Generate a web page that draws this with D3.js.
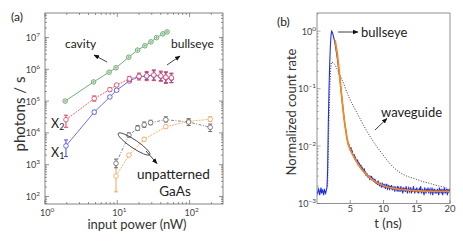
<!DOCTYPE html>
<html><head><meta charset="utf-8">
<script src="https://cdn.jsdelivr.net/npm/d3@7"></script>
<style>body{margin:0;background:#fff} svg{display:block;font-family:Lato,sans-serif}</style>
</head><body><svg></svg><script>
// ---- panel (a) data: photons / s vs input power (nW)
var cavityPower = [1.9, 4.7, 7.7, 9.6, 14.4, 19.1, 24.1, 29.2, 34.9, 42.7, 48.9];
var cavityRate  = [1.0e5, 4.0e5, 8.1e5, 1.12e6, 2.4e6, 4.0e6, 5.5e6, 7.3e6, 9.9e6, 1.3e7, 1.5e7];

var bullPower = [1.95, 4.8, 7.9, 9.8, 14.7, 20, 25.5, 32, 40, 47, 56];
var x2Rate = [2.6e4, 1.2e5, 2.3e5, 3.2e5, 5.0e5, 6.0e5, 6.2e5, 6.6e5, 6.2e5, 5.6e5, 5.4e5];
var x2Lo   = [1.5e4, 1.0e5, 2.0e5, 2.9e5, 4.2e5, 4.6e5, 4.4e5, 4.4e5, 4.2e5, 3.6e5, 3.8e5];
var x2Hi   = [3.6e4, 1.45e5, 2.6e5, 3.5e5, 6.0e5, 7.6e5, 8.6e5, 9.6e5, 8.8e5, 8.4e5, 7.6e5];
var x1Rate = [3.9e3, 4.5e4, 1.35e5, 2.2e5, 4.3e5, 5.9e5, 6.1e5, 6.5e5, 6.0e5, 5.4e5, 5.2e5];
var x1Lo   = [1.8e3, 4.0e4, 1.25e5, 2.0e5, 3.9e5, 5.0e5, 4.8e5, 4.6e5, 4.4e5, 3.8e5, 3.8e5];
var x1Hi   = [6.0e3, 5.1e4, 1.45e5, 2.4e5, 4.8e5, 7.0e5, 8.0e5, 9.0e5, 8.2e5, 7.8e5, 7.2e5];

var grayPower = [9.6, 14.5, 19.1, 23.6, 28.9, 46.9, 97, 193];
var grayRate  = [1.1e3, 8.5e3, 1.4e4, 1.8e4, 2.1e4, 2.6e4, 2.2e4, 1.5e4];
var grayLo    = [0.8e3, 7.5e3, 1.2e4, 1.5e4, 1.8e4, 2.2e4, 1.7e4, 1.1e4];
var grayHi    = [1.5e3, 1.0e4, 1.7e4, 2.2e4, 2.5e4, 3.2e4, 2.8e4, 1.9e4];

var orangePower = [9.6, 14.5, 23.6, 46.9, 97, 193];
var orangeRate  = [440, 2.0e3, 6.3e3, 1.57e4, 2.3e4, 2.7e4];
var orangeLo    = [140, 1.8e3, 5.5e3, 1.4e4, 2.0e4, 2.3e4];
var orangeHi    = [1.0e3, 2.2e3, 7.2e3, 1.75e4, 2.6e4, 3.2e4];

var aExpX = [0, 1, 2];
var aExpY = [2, 3, 4, 5, 6, 7];

// ---- panel (b) data: normalized count rate vs t (ns)
var timeStep = 0.1; // blue trace sampled every 0.1 ns from 0 to 20
var bullTraceE3 = [ // values x 1e-3
  1.6,1.5,1.8,1.7,1.4,1.6,1.9,1.5,1.7,1.6,1.4,1.8,1.6,1.5,1.7,1.9,
  4,25,90,250,520,830,1000,960,880,790,700,610,520,440,
  372,300,245,200,162,129,100,76,59,47,36,29,23.4,20,17.5,13.5,12.4,10.5,10.6,9.1,
  8.7,9.6,7.9,8.2,7.1,6.6,7.2,6.0,6.3,5.5,
  5.3,5.8,4.8,5.1,4.9,4.3,4.7,4.0,4.2,3.8,
  3.7,4.1,3.4,3.5,3.0,3.3,3.2,2.8,3.1,2.7,
  2.9,2.6,3.0,2.5,2.7,2.4,2.7,2.3,2.5,2.2,
  2.4,2.1,2.5,2.2,2.0,2.3,2.1,1.9,2.3,2.0,
  2.1,1.9,2.2,1.8,2.0,2.2,1.8,1.9,2.1,1.7,
  2.0,1.8,2.1,1.7,1.9,1.8,2.0,1.6,1.9,1.8,
  1.7,2.0,1.6,1.9,1.8,1.6,2.0,1.7,1.8,1.5,
  1.9,1.7,1.8,1.6,2.0,1.7,1.5,1.8,1.9,1.6,
  1.7,1.9,1.5,1.8,1.6,2.0,1.7,1.5,1.8,1.6,
  1.9,1.6,1.7,1.5,1.8,1.7,2.0,1.5,1.6,1.8,
  1.6,1.4,1.9,1.7,1.5,1.8,1.6,1.9,1.5,1.7,
  1.8,1.5,1.6,1.9,1.4,1.7,1.6,1.8,1.5,1.7,
  1.5,1.8,1.6,1.4,1.9,1.6,1.7,1.5,1.8,1.4,
  1.7,1.6,1.9,1.5,1.6,1.8,1.4,1.7,1.6,1.8,
  1.6];
var fitT = [2.72, 3.08, 3.42, 3.77, 4.17, 4.57, 4.96, 5.55, 6.3, 7.29, 8.53, 10.0, 12.0, 14.5, 17.5, 20];
var fitV = [0.70, 0.38, 0.16, 0.063, 0.025, 0.0126, 0.0089, 0.0065, 0.0046, 0.0033, 0.0025, 0.00204, 0.0018, 0.00168, 0.00163, 0.00163];
var waveT = [1.6, 1.9, 2.19, 3.57, 4.81, 6.06, 7.29, 8.53, 9.78, 11.0, 12.25, 13.5, 14.7, 15.97, 17.2, 18.45, 19.45];
var waveV = [0.002, 0.08, 0.29, 0.16, 0.071, 0.037, 0.020, 0.0117, 0.0074, 0.0049, 0.0036, 0.0030, 0.0027, 0.0024, 0.0022, 0.0020, 0.0019];
var bExpY = [0, -1, -2, -3];
var bTicksX = [5, 10, 15, 20];

var svg = d3.select('svg').attr('width', 463).attr('height', 241);
var defs = svg.append('defs');
defs.append('marker').attr('id', 'ah').attr('viewBox', '0 0 10 10')
  .attr('refX', 9).attr('refY', 5).attr('markerWidth', 7).attr('markerHeight', 7)
  .attr('orient', 'auto')
  .append('path').attr('d', 'M0,1L10,5L0,9Z').attr('fill', '#111');

function pow10(g, x, y, e, anchor, fs) {
  var t = g.append('text').attr('x', x).attr('y', y).attr('text-anchor', anchor)
    .attr('font-size', fs).attr('fill', '#444');
  t.append('tspan').text('10');
  t.append('tspan').attr('dy', -4).attr('font-size', fs * 0.72).text(e < 0 ? '\u2212' + (-e) : e);
  return t;
}

// ================= panel (a)
var ax = d3.scaleLog().domain([1, 290]).range([45, 223]);
var ay = d3.scaleLog().domain([Math.pow(10, 1.764), Math.pow(10, 7.77)]).range([204, 13]);
var ga = svg.append('g');
ga.append('defs').append('clipPath').attr('id', 'clipA').append('rect')
  .attr('x', 45).attr('y', 13).attr('width', 178).attr('height', 191);

ax.ticks().forEach(function (v) {
  var major = Math.abs(Math.log10(v) - Math.round(Math.log10(v))) < 1e-9;
  var len = major ? 4 : 2, x = ax(v);
  ga.append('line').attr('x1', x).attr('x2', x).attr('y1', 204).attr('y2', 204 - len).attr('stroke', '#666').attr('stroke-width', 0.7);
  ga.append('line').attr('x1', x).attr('x2', x).attr('y1', 13).attr('y2', 13 + len).attr('stroke', '#666').attr('stroke-width', 0.7);
});
ay.ticks().forEach(function (v) {
  var major = Math.abs(Math.log10(v) - Math.round(Math.log10(v))) < 1e-9;
  var len = major ? 4 : 2, y = ay(v);
  ga.append('line').attr('x1', 45).attr('x2', 45 + len).attr('y1', y).attr('y2', y).attr('stroke', '#666').attr('stroke-width', 0.7);
  ga.append('line').attr('x1', 223).attr('x2', 223 - len).attr('y1', y).attr('y2', y).attr('stroke', '#666').attr('stroke-width', 0.7);
});
ga.append('rect').attr('x', 45).attr('y', 13).attr('width', 178).attr('height', 191)
  .attr('fill', 'none').attr('stroke', '#666').attr('stroke-width', 0.8);
aExpX.forEach(function (e) { pow10(ga, ax(Math.pow(10, e)) - 5, 215.5, e, 'start', 9); });
aExpY.forEach(function (e) { pow10(ga, 40, ay(Math.pow(10, e)) + 3.5, e, 'end', 9); });

function series(xs, ys, lo, hi, color, dash, cross) {
  var pts = xs.map(function (x, i) { return {x: x, y: ys[i], lo: lo ? lo[i] : null, hi: hi ? hi[i] : null}; });
  var g = ga.append('g').attr('clip-path', 'url(#clipA)');
  g.append('path').datum(pts)
    .attr('d', d3.line().x(function (d) { return ax(d.x); }).y(function (d) { return ay(d.y); }))
    .attr('fill', 'none').attr('stroke', color).attr('stroke-width', 0.8).attr('stroke-dasharray', dash);
  if (lo) {
    var eb = g.selectAll('g.eb').data(pts).enter().append('g')
      .attr('stroke', color).attr('stroke-width', 1);
    eb.append('line').attr('x1', function (d) { return ax(d.x); }).attr('x2', function (d) { return ax(d.x); })
      .attr('y1', function (d) { return ay(d.lo); }).attr('y2', function (d) { return ay(d.hi); });
    eb.append('line').attr('x1', function (d) { return ax(d.x) - 2; }).attr('x2', function (d) { return ax(d.x) + 2; })
      .attr('y1', function (d) { return ay(d.lo); }).attr('y2', function (d) { return ay(d.lo); });
    eb.append('line').attr('x1', function (d) { return ax(d.x) - 2; }).attr('x2', function (d) { return ax(d.x) + 2; })
      .attr('y1', function (d) { return ay(d.hi); }).attr('y2', function (d) { return ay(d.hi); });
  }
  g.selectAll('circle').data(pts).enter().append('circle')
    .attr('cx', function (d) { return ax(d.x); }).attr('cy', function (d) { return ay(d.y); })
    .attr('r', 2.3).attr('fill', '#fff').attr('stroke', color).attr('stroke-width', 0.8);
  if (cross) {
    g.selectAll('path.cr').data(pts).enter().append('path')
      .attr('d', function (d) { var x = ax(d.x), y = ay(d.y); return 'M' + (x - 1.6) + ',' + y + 'H' + (x + 1.6) + 'M' + x + ',' + (y - 1.6) + 'V' + (y + 1.6); })
      .attr('stroke', color).attr('stroke-width', 0.6);
  }
}
series(cavityPower, cavityRate, null, null, '#4f9a55', null, true);
series(bullPower, x1Rate, x1Lo, x1Hi, '#4a4ae0', null, false);
series(bullPower, x2Rate, x2Lo, x2Hi, '#e0405a', '2,1', false);
series(orangePower, orangeRate, orangeLo, orangeHi, '#f2a35a', '2,1', false);
series(grayPower, grayRate, grayLo, grayHi, '#6a6a6a', '3,1.5,1,1.5', false);

// annotations (a)
ga.append('text').attr('x', 11).attr('y', 21).attr('font-size', 12).attr('fill', '#222').text('(a)');
ga.append('text').attr('x', 65).attr('y', 47.5).attr('font-size', 12).attr('fill', '#222').text('cavity');
ga.append('line').attr('x1', 107).attr('y1', 62).attr('x2', 94).attr('y2', 55)
  .attr('stroke', '#111').attr('stroke-width', 0.8).attr('marker-end', 'url(#ah)');
ga.append('text').attr('x', 171).attr('y', 48).attr('font-size', 12).attr('fill', '#222').text('bullseye');
ga.append('line').attr('x1', 167).attr('y1', 65).attr('x2', 180).attr('y2', 56)
  .attr('stroke', '#111').attr('stroke-width', 0.8).attr('marker-end', 'url(#ah)');
var tx2 = ga.append('text').attr('x', 51).attr('y', 128).attr('font-size', 12.5).attr('fill', '#222');
tx2.append('tspan').text('X');
tx2.append('tspan').attr('dy', 1.5).attr('font-size', 9).text('2');
var tx1 = ga.append('text').attr('x', 51).attr('y', 157).attr('font-size', 12.5).attr('fill', '#222');
tx1.append('tspan').text('X');
tx1.append('tspan').attr('dy', 1.5).attr('font-size', 9).text('1');
ga.append('ellipse').attr('cx', 134).attr('cy', 144).attr('rx', 19).attr('ry', 4)
  .attr('transform', 'rotate(34,134,144)').attr('fill', 'none').attr('stroke', '#333').attr('stroke-width', 0.8);
ga.append('line').attr('x1', 146).attr('y1', 151).attr('x2', 157).attr('y2', 163.5)
  .attr('stroke', '#111').attr('stroke-width', 0.8).attr('marker-end', 'url(#ah)');
ga.append('text').attr('x', 137).attr('y', 179).attr('font-size', 13.5).attr('fill', '#222').text('unpatterned');
ga.append('text').attr('x', 175).attr('y', 196).attr('font-size', 13.5).attr('fill', '#222').attr('text-anchor', 'middle').text('GaAs');
ga.append('text').attr('x', 137).attr('y', 229).attr('font-size', 13).attr('fill', '#333').attr('text-anchor', 'middle').text('input power (nW)');
ga.append('text').attr('transform', 'translate(25,114) rotate(-90)').attr('font-size', 15).attr('fill', '#333')
  .attr('text-anchor', 'middle').text('photons / s');

// ================= panel (b)
var bx = d3.scaleLinear().domain([0, 20]).range([317, 450]);
var by = d3.scaleLog().domain([1e-3, Math.pow(10, 0.316)]).range([203.5, 13]);
var gb = svg.append('g');
gb.append('defs').append('clipPath').attr('id', 'clipB').append('rect')
  .attr('x', 317).attr('y', 13).attr('width', 133).attr('height', 190.5);

bTicksX.forEach(function (v) {
  gb.append('line').attr('x1', bx(v)).attr('x2', bx(v)).attr('y1', 203.5).attr('y2', 200).attr('stroke', '#666').attr('stroke-width', 0.7);
  gb.append('text').attr('x', bx(v)).attr('y', 212).attr('text-anchor', 'middle').attr('font-size', 9.5).attr('fill', '#444').text(v);
});
by.ticks().forEach(function (v) {
  var major = Math.abs(Math.log10(v) - Math.round(Math.log10(v))) < 1e-9;
  gb.append('line').attr('x1', 317).attr('x2', 317 + (major ? 3.5 : 1.8)).attr('y1', by(v)).attr('y2', by(v))
    .attr('stroke', '#777').attr('stroke-width', 0.6);
});
bExpY.forEach(function (e) { pow10(gb, 316, by(Math.pow(10, e)) + 3.5, e, 'end', 9); });

var gbc = gb.append('g').attr('clip-path', 'url(#clipB)');
var blueData = bullTraceE3.map(function (v, i) { return {t: i * timeStep, v: v * 1e-3}; });
var waveData = waveT.map(function (t, i) { return {t: t, v: waveV[i]}; });
var fitData = fitT.map(function (t, i) { return {t: t, v: fitV[i]}; });
var lineB = d3.line().x(function (d) { return bx(d.t); }).y(function (d) { return by(d.v); });
gbc.append('path').datum(waveData).attr('d', lineB.curve(d3.curveMonotoneX))
  .attr('fill', 'none').attr('stroke', '#222').attr('stroke-width', 0.9).attr('stroke-dasharray', '1,1.6');
gbc.append('path').datum(blueData).attr('d', d3.line().x(function (d) { return bx(d.t); }).y(function (d) { return by(d.v); }))
  .attr('fill', 'none').attr('stroke', '#1f2fe6').attr('stroke-width', 1.1);
gbc.append('path').datum(fitData).attr('d', d3.line().curve(d3.curveMonotoneX).x(function (d) { return bx(d.t); }).y(function (d) { return by(d.v); }))
  .attr('fill', 'none').attr('stroke', '#f28a1e').attr('stroke-width', 1.8);
gb.append('rect').attr('x', 317).attr('y', 13).attr('width', 133).attr('height', 190.5)
  .attr('fill', 'none').attr('stroke', '#777').attr('stroke-width', 0.8);

gb.append('text').attr('x', 277).attr('y', 26).attr('font-size', 12).attr('fill', '#222').text('(b)');
gb.append('line').attr('x1', 338).attr('y1', 32).attr('x2', 358).attr('y2', 32)
  .attr('stroke', '#111').attr('stroke-width', 0.8).attr('marker-end', 'url(#ah)');
gb.append('text').attr('x', 361).attr('y', 36.5).attr('font-size', 13).attr('fill', '#222').text('bullseye');
gb.append('text').attr('x', 381).attr('y', 116.5).attr('font-size', 13).attr('fill', '#222').text('waveguide');
gb.append('line').attr('x1', 375).attr('y1', 130).attr('x2', 387).attr('y2', 118.5)
  .attr('stroke', '#111').attr('stroke-width', 0.8).attr('marker-end', 'url(#ah)');
gb.append('text').attr('x', 388).attr('y', 227.5).attr('font-size', 13).attr('fill', '#333').attr('text-anchor', 'middle').text('t (ns)');
gb.append('text').attr('transform', 'translate(296,112) rotate(-90)').attr('font-size', 15).attr('fill', '#333')
  .attr('font-size', 13).attr('text-anchor', 'middle').text('Normalized count rate');
</script></body></html>
